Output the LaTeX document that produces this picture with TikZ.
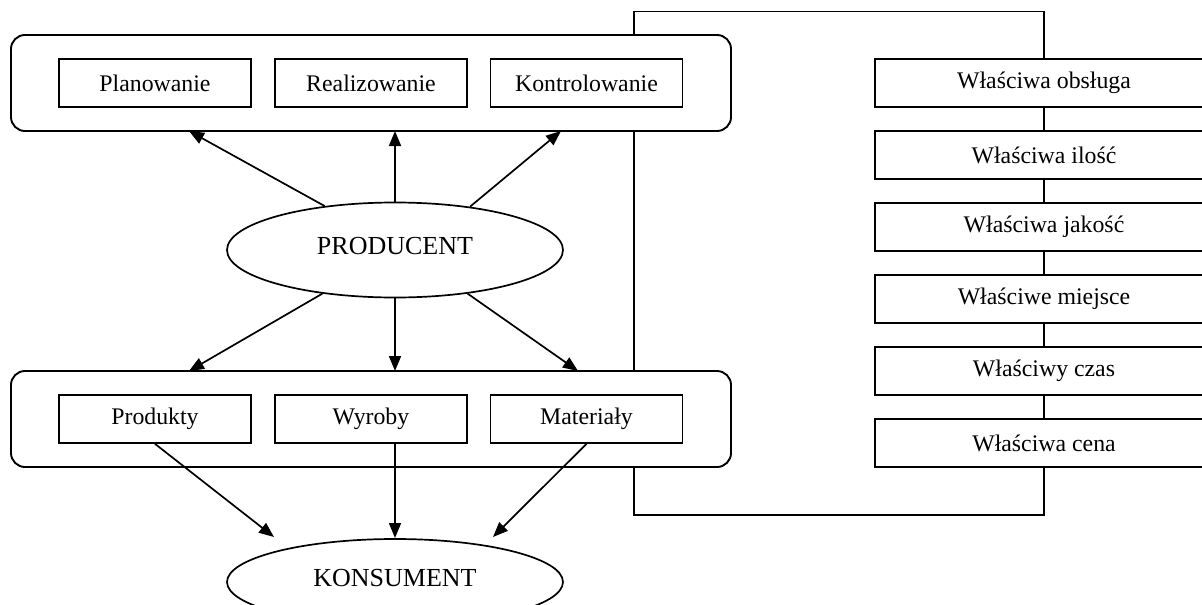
\documentclass[tikz,border=0pt]{standalone}
\usepackage{fontspec}
\setmainfont{Liberation Serif}
\usetikzlibrary{arrows.meta,shapes.geometric,calc}
\begin{document}
\begin{tikzpicture}[x=1pt,y=-1pt,
  box/.style={draw,line width=1.7pt,minimum width=192pt,minimum height=48pt,inner sep=0pt,fill=white,font=\fontsize{23.8}{26}\selectfont},
  rbox/.style={draw,line width=1.7pt,minimum width=338pt,minimum height=48pt,inner sep=0pt,fill=white,font=\fontsize{23.8}{26}\selectfont},
  group/.style={draw,line width=1.9pt,rounded corners=14pt,minimum width=720pt,minimum height=96pt,inner sep=0pt,fill=white},
  oval/.style={draw,ellipse,line width=1.7pt,minimum width=336pt,inner sep=0pt,fill=white,font=\fontsize{26}{28}\selectfont},
  link/.style={line width=1.7pt},
  arr/.style={line width=1.7pt,-{Triangle[length=15pt,width=12pt]}}
]
\useasboundingbox (0,0) rectangle (1202,605);
\clip (0,0) rectangle (1202,605);
\fill[white] (0,0) rectangle (1202,605);

% right column
\node[rbox] (r1) at (1044,83)  {Właściwa obsługa};
\node[rbox] (r2) at (1044,155) {Właściwa ilość};
\node[rbox] (r3) at (1044,227) {Właściwa jakość};
\node[rbox] (r4) at (1044,299) {Właściwe miejsce};
\node[rbox] (r5) at (1044,371) {Właściwy czas};
\node[rbox] (r6) at (1044,443) {Właściwa cena};
\draw[link] (r1.south) -- (r2.north);
\draw[link] (r2.south) -- (r3.north);
\draw[link] (r3.south) -- (r4.north);
\draw[link] (r4.south) -- (r5.north);
\draw[link] (r5.south) -- (r6.north);

% bracket
\coordinate (b1) at (634,11.5);
\coordinate (b3) at (634,515);
\draw[link] (r1.north) |- (b1) -- (b3) -| (r6.south);

% groups
\node[group] (gtop) at (371,83) {};
\node[group] (gbot) at (371,419) {};

\node[box] (pl) at (155,83) {Planowanie};
\node[box] (re) at (371,83) {Realizowanie};
\node[box] (ko) at (586.5,83) {\raisebox{-2.5pt}{Kontrolowanie}};

\node[box] (pp) at (155,419) {\raisebox{-2pt}{Produkty}};
\node[box] (pw) at (371,419) {\raisebox{-2pt}{Wyroby}};
\node[box] (pm) at (586.5,419) {\raisebox{-2pt}{Materiały}};

% ellipses
\node[oval,minimum height=95pt] (prod) at (395,250) {\raisebox{8pt}{PRODUCENT}};
\node[oval,minimum height=86pt] (kons) at (395,582) {\raisebox{8.5pt}{KONSUMENT}};

% arrow targets
\coordinate (t1) at (189,131);
\coordinate (t2) at (395,131);
\coordinate (t3) at (561,131);
\coordinate (u1) at (189,371);
\coordinate (u2) at (395,371);
\coordinate (u3) at (578,371);
\coordinate (k1) at (274,537);
\coordinate (k2) at (395,538);
\coordinate (k3) at (493,537);

\draw[arr] (prod.148.8) -- (t1);
\draw[arr] (prod.north) -- (t2);
\draw[arr] (prod.30.4) -- (t3);
\draw[arr] (prod.211.2) -- (u1);
\draw[arr] (prod.south) -- (u2);
\draw[arr] (prod.329.6) -- (u3);

\draw[arr] (pp.south) -- (k1);
\draw[arr] (pw.south -| k2) -- (k2);
\draw[arr] (pm.south) -- (k3);
\end{tikzpicture}
\end{document}
